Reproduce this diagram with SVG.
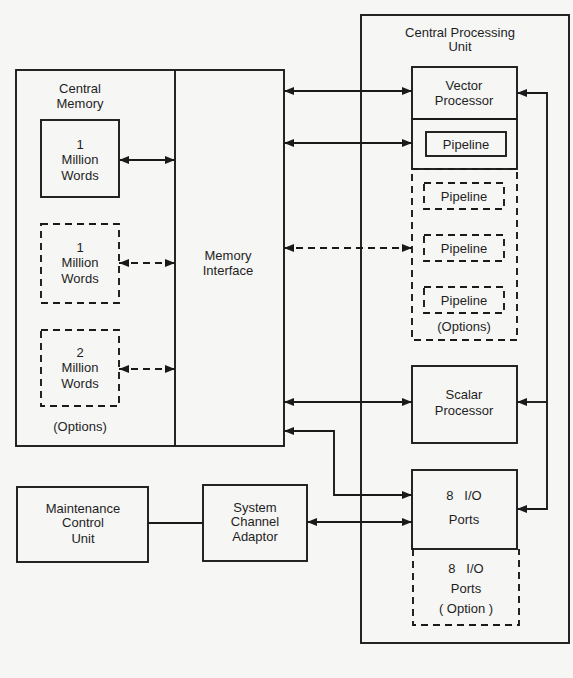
<svg xmlns="http://www.w3.org/2000/svg" width="573" height="678" viewBox="0 0 573 678">
<style>
.b{fill:none;stroke:#1a1a1a;stroke-width:1.9}
.d{fill:none;stroke:#1a1a1a;stroke-width:1.9;stroke-dasharray:7,5}
.c{fill:none;stroke:#1a1a1a;stroke-width:1.9}
.cd{fill:none;stroke:#1a1a1a;stroke-width:1.9;stroke-dasharray:7,5}
text{font-family:"Liberation Sans",Arial,sans-serif;font-size:13px;fill:#1e1e1e;text-anchor:middle}
</style>
<defs>
<marker id="ah" markerUnits="userSpaceOnUse" markerWidth="11" markerHeight="8" refX="10" refY="4" orient="auto-start-reverse">
<path d="M0,0 L10,4 L0,8 z" fill="#1a1a1a" stroke="none"/>
</marker>
</defs>
<rect width="573" height="678" fill="#f6f6f5"/>

<g id="central-memory">
<rect class="b" x="16" y="70" width="268" height="376"/>
<line class="b" x1="175" y1="70" x2="175" y2="446"/>
<text x="80" y="93">Central</text>
<text x="80" y="108">Memory</text>
<text x="80" y="431">(Options)</text>
</g>
<g id="memory-interface">
<text x="228" y="260">Memory</text>
<text x="228" y="275">Interface</text>
</g>
<g id="mem1">
<rect class="b" x="41" y="120" width="78" height="77"/>
<text x="80" y="149">1</text>
<text x="80" y="164">Million</text>
<text x="80" y="180">Words</text>
</g>
<g id="mem2">
<rect class="d" x="41" y="224" width="78" height="79"/>
<text x="80" y="252">1</text>
<text x="80" y="267">Million</text>
<text x="80" y="283">Words</text>
</g>
<g id="mem3">
<rect class="d" x="41" y="330" width="78" height="76"/>
<text x="80" y="357">2</text>
<text x="80" y="372">Million</text>
<text x="80" y="388">Words</text>
</g>

<g id="cpu">
<rect class="b" x="361" y="15" width="208" height="628"/>
<text x="460" y="37">Central Processing</text>
<text x="460" y="51">Unit</text>
</g>
<g id="vector-processor">
<rect class="b" x="412" y="67" width="105" height="102"/>
<line class="b" x1="412" y1="119" x2="517" y2="119"/>
<text x="464" y="90">Vector</text>
<text x="464" y="105">Processor</text>
</g>
<g id="pipeline1">
<rect class="b" x="426" y="132" width="80" height="24"/>
<text x="466" y="149">Pipeline</text>
</g>
<g id="pipeline-options">
<rect class="d" x="412" y="169" width="105" height="171"/>
<text x="464" y="331">(Options)</text>
</g>
<g id="pipeline2">
<rect class="d" x="424" y="183" width="80" height="26"/>
<text x="464" y="201">Pipeline</text>
</g>
<g id="pipeline3">
<rect class="d" x="424" y="235" width="80" height="26"/>
<text x="464" y="253">Pipeline</text>
</g>
<g id="pipeline4">
<rect class="d" x="424" y="287" width="80" height="26"/>
<text x="464" y="305">Pipeline</text>
</g>
<g id="scalar-processor">
<rect class="b" x="412" y="366" width="105" height="77"/>
<text x="464" y="399">Scalar</text>
<text x="464" y="415">Processor</text>
</g>
<g id="io-ports">
<rect class="b" x="412" y="470" width="105" height="79"/>
<text x="464" y="500" xml:space="preserve">8   I/O</text>
<text x="464" y="524">Ports</text>
</g>
<g id="io-ports-option">
<path class="d" d="M413,549 V625 H519 V549"/>
<text x="466" y="573" xml:space="preserve">8   I/O</text>
<text x="466" y="593">Ports</text>
<text x="466" y="613">( Option )</text>
</g>
<g id="maintenance-control-unit">
<rect class="b" x="17" y="487" width="131" height="75"/>
<text x="83" y="513">Maintenance</text>
<text x="83" y="527">Control</text>
<text x="83" y="543">Unit</text>
</g>
<g id="system-channel-adaptor">
<rect class="b" x="203" y="485" width="104" height="76"/>
<text x="255" y="512">System</text>
<text x="255" y="526">Channel</text>
<text x="255" y="541">Adaptor</text>
</g>

<g id="connectors">
<line class="c" x1="119" y1="160" x2="175" y2="160" marker-start="url(#ah)" marker-end="url(#ah)"/>
<line class="cd" x1="119" y1="263" x2="175" y2="263" marker-start="url(#ah)" marker-end="url(#ah)"/>
<line class="cd" x1="119" y1="369" x2="175" y2="369" marker-start="url(#ah)" marker-end="url(#ah)"/>
<line class="c" x1="284" y1="91" x2="412" y2="91" marker-start="url(#ah)" marker-end="url(#ah)"/>
<line class="c" x1="284" y1="143" x2="412" y2="143" marker-start="url(#ah)" marker-end="url(#ah)"/>
<line class="cd" x1="284" y1="248" x2="412" y2="248" marker-start="url(#ah)" marker-end="url(#ah)"/>
<line class="c" x1="284" y1="402" x2="412" y2="402" marker-start="url(#ah)" marker-end="url(#ah)"/>
<path class="c" d="M284,431 H334 V495 H412" marker-start="url(#ah)" marker-end="url(#ah)"/>
<line class="c" x1="307" y1="522" x2="412" y2="522" marker-start="url(#ah)" marker-end="url(#ah)"/>
<line class="c" x1="148" y1="523" x2="203" y2="523"/>
<path class="c" d="M517,93 H547 V509 H517" marker-start="url(#ah)" marker-end="url(#ah)"/>
<line class="c" x1="547" y1="402" x2="517" y2="402" marker-end="url(#ah)"/>
</g>
</svg>
